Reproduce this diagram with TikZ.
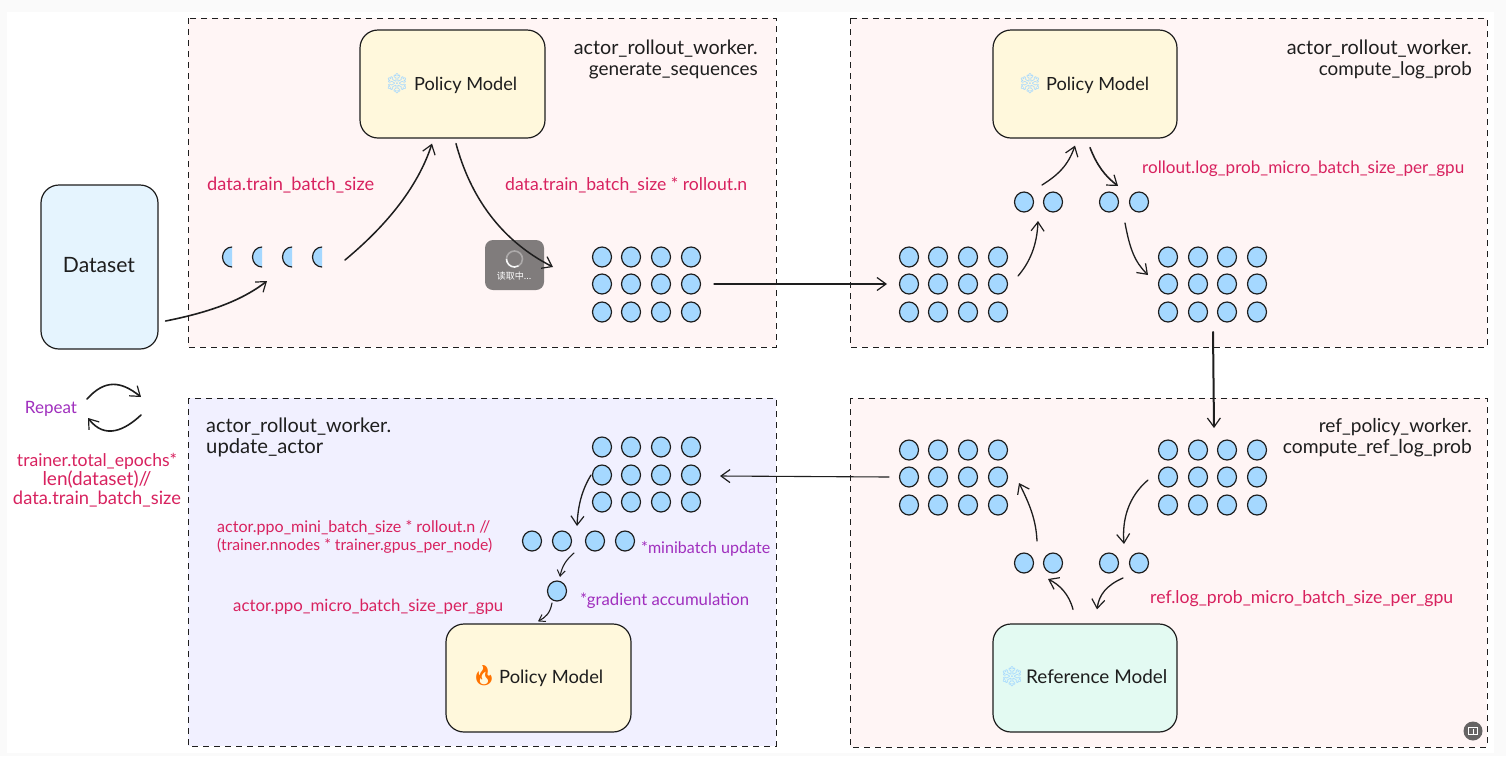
\documentclass[tikz,border=0pt]{standalone}
\usepackage{fontspec}
\usepackage{graphicx}
\setmainfont{Lato}
\newfontfamily\cjkfont{Noto Sans CJK SC}
\newfontfamily\emojifont{Noto Emoji}
\usetikzlibrary{arrows.meta,shapes.geometric}
\definecolor{ink}{HTML}{1E1E1E}
\definecolor{panelpink}{HTML}{FFF5F5}
\definecolor{panelviolet}{HTML}{F1F0FF}
\definecolor{boxyellow}{HTML}{FFF8DC}
\definecolor{boxblue}{HTML}{E5F4FE}
\definecolor{boxgreen}{HTML}{E3FAF2}
\definecolor{dotblue}{HTML}{A5D8FF}
\definecolor{redtxt}{HTML}{D8225F}
\definecolor{purtxt}{HTML}{A02FBE}
\definecolor{outerbg}{HTML}{FAFAFA}
\definecolor{overlaygray}{HTML}{807C7C}
\definecolor{badgegray}{HTML}{666464}
\newcommand\fw[2]{\resizebox{#1pt}{!}{#2}}
\newcommand\dotgrid[3]{%
  \foreach \gx [count=\gi] in {#2} \foreach \gy [count=\gj] in {#3}
    \node[dotnode] (#1-\gi-\gj) at (\gx,\gy) {};}
\tikzset{
  panel/.style={draw=ink,line width=1pt,dash pattern=on 6pt off 5pt},
  modelbox/.style={draw=ink,line width=1.2pt,rounded corners=18pt,inner sep=0pt,text=ink},
  dotnode/.style={ellipse,draw=ink,line width=1.2pt,fill=dotblue,minimum width=19pt,minimum height=20pt,inner sep=0pt},
  conn/.style={draw=ink,line width=1.3pt,line cap=round,-{Straight Barb[length=9pt,width=13pt,line width=1.2pt]}},
  smallconn/.style={draw=ink,line width=1.1pt,line cap=round,-{Straight Barb[length=6pt,width=8pt,line width=1pt]}},
  title/.style={text=ink,inner sep=0pt,yshift=-4pt},
  redlab/.style={text=redtxt,inner sep=0pt,yshift=-4pt},
  purlab/.style={text=purtxt,inner sep=0pt,yshift=-4pt},
  iconlab/.style={inner sep=0pt,font=\fontsize{20}{20}\selectfont\emojifont},
}
\begin{document}
\begin{tikzpicture}[x=1pt,y=-1pt,font=\fontsize{16}{16}\selectfont]
\useasboundingbox (0,0) rectangle (1506,756);
\fill[outerbg] (0,0) rectangle (1506,756);
\fill[white] (7,12) rectangle (1494,753);
% panels
\filldraw[panel,fill=panelpink] (188,18) rectangle (776,347);
\filldraw[panel,fill=panelpink] (850,18) rectangle (1487,347);
\filldraw[panel,fill=panelviolet] (188,398) rectangle (776,746);
\filldraw[panel,fill=panelpink] (850,398) rectangle (1487,747);
% model boxes
\node[modelbox,fill=boxblue,minimum width=117pt,minimum height=164pt] (dataset) at (99.5,267) {};
\node[title,anchor=mid] (datasetlab) at (99,266) {\fw{72}{Dataset}};
\node[modelbox,fill=boxyellow,minimum width=185pt,minimum height=108pt] (polA) at (452.5,84) {};
\node[modelbox,fill=boxyellow,minimum width=184pt,minimum height=108pt] (polB) at (1085,84) {};
\node[modelbox,fill=boxyellow,minimum width=185pt,minimum height=108pt] (polC) at (538.5,678) {};
\node[modelbox,fill=boxgreen,minimum width=184pt,minimum height=108pt] (refm) at (1085,678) {};
\node[title,anchor=mid west] (polAlab) at (414,84) {\fw{103}{Policy Model}};
\node[title,anchor=mid west] (polBlab) at (1046,84) {\fw{103}{Policy Model}};
\node[title,anchor=mid west] (polClab) at (499,677) {\fw{104}{Policy Model}};
\node[title,anchor=mid west] (refmlab) at (1026,677) {\fw{141}{Reference Model}};
\node[iconlab,text=dotblue] (iceA) at (397,84) {❄};
\node[iconlab,text=dotblue] (iceB) at (1030,84) {❄};
\node[iconlab,text=dotblue] (iceC) at (1012,677) {❄};
\node[iconlab,text=orange!90!red] (fire) at (484,676) {🔥};
% half dots
\foreach \mx [count=\mi] in {232,262,292,322}{
  \begin{scope}
    \clip (\mx-11,244) rectangle (\mx,270);
    \node[dotnode] (moon\mi) at (\mx,257) {};
  \end{scope}}
% dot grids
\dotgrid{gA}{602,631,661,691}{257,284,312}
\dotgrid{gB}{909,938,968,998}{257,284,312}
\dotgrid{gC}{1168,1198,1227,1257}{257,284,312}
\dotgrid{gD}{909,938,968,998}{450,477,505}
\dotgrid{gE}{1168,1198,1227,1257}{450,477,505}
\dotgrid{gP}{602,631,661,691}{447,475,502}
\dotgrid{pA}{1024,1053}{202}
\dotgrid{pB}{1109,1139}{202}
\dotgrid{pC}{1024,1053}{563}
\dotgrid{pD}{1109,1139}{563}
\dotgrid{mb}{532,562,595,625}{541}
\dotgrid{sg}{557}{591}
% loading overlay
\node[fill=overlaygray,rounded corners=8pt,minimum width=59pt,minimum height=50pt,inner sep=0pt] (loading) at (514.5,265) {};
\draw[white,line width=1.6pt,opacity=.35] ([shift={(-8,-6)}]loading.center) arc[start angle=180,end angle=-60,radius=8pt];
\draw[white,line width=1.6pt,opacity=.95] ([shift={(-8,-6)}]loading.center) arc[start angle=180,end angle=300,radius=8pt];
\node[text=white,inner sep=0pt] (loadinglab) at (514,276) {\fontsize{9}{9}\selectfont\cjkfont 读取中...};
% badge
\node[circle,fill=badgegray,minimum size=19pt,inner sep=0pt] (badge) at (1473,731) {};
\draw[white,line width=.8pt] ([shift={(-4.5,-4)}]badge.center) rectangle ([shift={(4.5,3)}]badge.center);
\draw[white,line width=.8pt] ([shift={(0,-2)}]badge.center) -- ([shift={(0,4)}]badge.center);
% connectors
\draw[conn,line width=1.6pt] ([shift={(7,54)}]dataset.east) .. controls +(40,-8) and +(-27,21) .. ([shift={(5,24)}]moon2.center);
\draw[conn,line width=1.5pt] ([shift={(23,3)}]moon4.center) .. controls +(30,-25) and +(-17,52) .. ([shift={(-20.5,5)}]polA.south);
\draw[conn,line width=1.5pt] ([shift={(3.5,5)}]polA.south) .. controls +(14,52) and +(-53,-27) .. ([shift={(-49,10)}]gA-1-1.center);
\draw[conn,line width=1.1pt] ([shift={(23,0)}]gA-4-2.center) -- ([shift={(-22,0)}]gB-1-2.center);
\draw[conn] ([shift={(20,-8)}]gB-4-2.center) .. controls +(12,-14) and +(-1,24) .. ([shift={(14,19)}]pA-1-1.center);
\draw[conn] ([shift={(-11,-17)}]pA-2-1.center) .. controls +(16,-10) and +(-7,20) .. ([shift={(-10,7)}]polB.south);
\draw[conn,line width=1.6pt] ([shift={(5,9)}]polB.south) .. controls +(7,18) and +(-13,-10) .. ([shift={(9,-16)}]pB-1-1.center);
\draw[conn] ([shift={(-14,21)}]pB-2-1.center) .. controls +(5,27) and +(-13,-13) .. ([shift={(-20,-9)}]gC-1-2.center);
\draw[conn,line width=2pt] ([shift={(15,20)}]gC-2-3.center) -- ([shift={(16,-22)}]gE-2-1.center);
\draw[conn] ([shift={(-20,3)}]gE-1-2.center) .. controls +(-20,17) and +(-2,-24) .. ([shift={(15,-19)}]pD-1-1.center);
\draw[conn] ([shift={(14,15)}]pD-1-1.center) .. controls +(-16,7) and +(2,-15) .. ([shift={(12,-14)}]refm.north);
\draw[conn] ([shift={(-12,-14)}]refm.north) .. controls +(-4,-15) and +(12,6) .. ([shift={(-5,16)}]pC-2-1.center);
\draw[conn] ([shift={(-16,-22)}]pC-2-1.center) .. controls +(-1,-21) and +(11,22) .. ([shift={(21,6)}]gD-4-2.center);
\draw[conn,line width=1.1pt] ([shift={(-20,0)}]gD-1-2.center) -- ([shift={(29,1)}]gP-4-2.center);
\draw[conn] ([shift={(-11,0)}]gP-1-2.center) .. controls +(-9,15) and +(1,-21) .. ([shift={(15,-15)}]mb-2-1.center);
\draw[smallconn] ([shift={(12,12)}]mb-2-1.center) .. controls +(-8,7) and +(2,-11) .. ([shift={(3,-14)}]sg-1-1.center);
\draw[smallconn] ([shift={(-5,12)}]sg-1-1.center) .. controls +(-2,11) and +(7,-4) .. ([shift={(-0.5,-2)}]polC.north);
% repeat
\node[purlab,anchor=mid] (repeatlab) at (51,407) {\fw{52}{Repeat}};
\coordinate (repA) at (87,399);
\coordinate (repB) at (141,397);
\coordinate (repC) at (141,415);
\coordinate (repD) at (88,418);
\draw[conn,line width=1.6pt] (repA) .. controls +(18,-20) and +(-20,-16) .. (repB);
\draw[conn,line width=1.6pt] (repC) .. controls +(-16,15) and +(17,22) .. (repD);
\node[redlab,anchor=mid] (tA) at (97,460) {\fw{160}{trainer.total\_epochs*}};
\node[redlab,anchor=mid] (tB) at (97,479) {\fw{109}{len(dataset)//}};
\node[redlab,anchor=mid] (tC) at (97,498) {\fw{168}{data.train\_batch\_size}};
% titles
\node[title,anchor=mid east] (hA1) at (758,48) {\fw{184}{actor\_rollout\_worker.}};
\node[title,anchor=mid east] (hA2) at (758,69) {\fw{169}{generate\_sequences}};
\node[title,anchor=mid east] (hB1) at (1472,48) {\fw{185}{actor\_rollout\_worker.}};
\node[title,anchor=mid east] (hB2) at (1472,69) {\fw{153}{compute\_log\_prob}};
\node[title,anchor=mid east] (hC1) at (1472,426) {\fw{153}{ref\_policy\_worker.}};
\node[title,anchor=mid east] (hC2) at (1472,447) {\fw{189}{compute\_ref\_log\_prob}};
\node[title,anchor=mid west] (hD1) at (206,426) {\fw{185}{actor\_rollout\_worker.}};
\node[title,anchor=mid west] (hD2) at (206,447) {\fw{117}{update\_actor}};
% red labels
\node[redlab,anchor=mid west] (rA) at (207,184) {\fw{167}{data.train\_batch\_size}};
\node[redlab,anchor=mid west] (rB) at (505,184) {\fw{242}{data.train\_batch\_size * rollout.n}};
\node[redlab,anchor=mid west] (rC) at (1142,167) {\fw{322}{rollout.log\_prob\_micro\_batch\_size\_per\_gpu}};
\node[redlab,anchor=mid west] (rD) at (1150,597) {\fw{303}{ref.log\_prob\_micro\_batch\_size\_per\_gpu}};
\node[redlab,anchor=mid west] (rE) at (217,526) {\fw{273}{actor.ppo\_mini\_batch\_size * rollout.n //}};
\node[redlab,anchor=mid west] (rF) at (217,544) {\fw{275}{(trainer.nnodes * trainer.gpus\_per\_node)}};
\node[redlab,anchor=mid west] (rG) at (233,605) {\fw{270}{actor.ppo\_micro\_batch\_size\_per\_gpu}};
% purple labels
\node[purlab,anchor=mid west] (uA) at (641,547) {\fw{129}{*minibatch update}};
\node[purlab,anchor=mid west] (uB) at (580,599) {\fw{169}{*gradient accumulation}};
\end{tikzpicture}
\end{document}
